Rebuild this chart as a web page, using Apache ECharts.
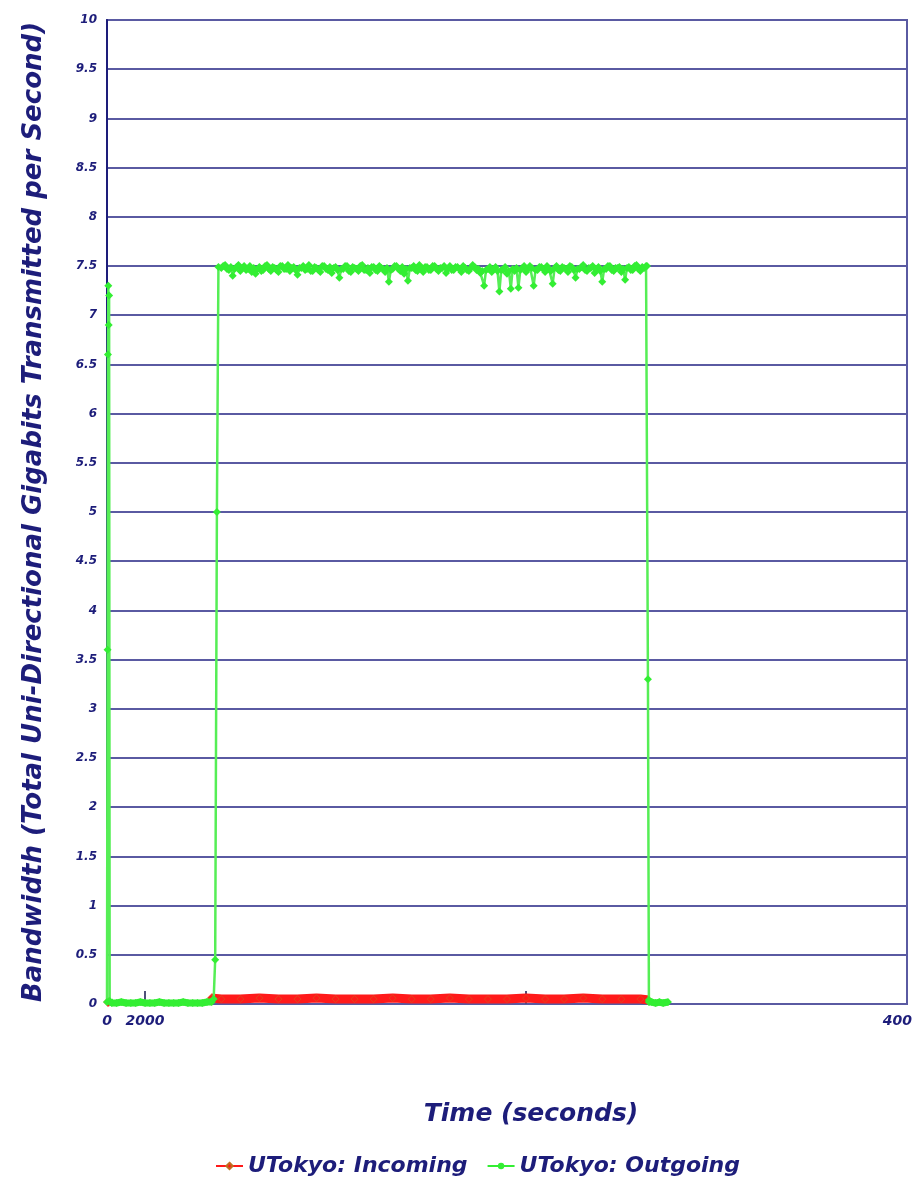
<!DOCTYPE html>
<html>
<head>
<meta charset="utf-8">
<title>UTokyo bandwidth</title>
<script src="https://cdn.jsdelivr.net/npm/echarts@6/dist/echarts.min.js"></script>
<style>
  html, body { margin: 0; padding: 0; background: #ffffff; overflow: hidden; }
  #chart { width: 912px; height: 1179px; }
</style>
</head>
<body>
<div id="chart"></div>
<script>
// ---- Data (time in seconds, bandwidth in Gbit/s) ----
const seriesNames = ['UTokyo: Incoming', 'UTokyo: Outgoing'];

// Outgoing: first short burst at start of the run
const outBurstTime = [0, 30, 50, 70, 90, 110, 140];
const outBurstGbps = [0.02, 3.6, 6.6, 7.3, 6.9, 7.2, 0.03];

// Outgoing: idle period before the main transfer
const outIdleTime = [250, 500, 750, 1000, 1250, 1500, 1750, 2000, 2250, 2500, 2750, 3000,
  3250, 3500, 3750, 4000, 4250, 4500, 4750, 5000, 5250, 5500];
const outIdleGbps = [0.01, 0.01, 0.02, 0.01, 0.01, 0.01, 0.02, 0.01, 0.01, 0.01, 0.02, 0.01,
  0.01, 0.01, 0.01, 0.02, 0.01, 0.01, 0.01, 0.01, 0.02, 0.02];

// Outgoing: ramp up
const outRampTime = [5600, 5680, 5770, 5850];
const outRampGbps = [0.05, 0.45, 5.0, 7.49];

// Outgoing: sustained transfer, one sample every 100 s from 6000 s
const plateauStart = 6000;
const plateauStep = 100;
const outPlateauGbps = [
  7.48, 7.50, 7.51, 7.47, 7.46, 7.49, 7.40, 7.47, 7.49, 7.51, 7.45, 7.48, 7.50, 7.46, 7.47, 7.50, 7.44, 7.48, 7.42, 7.47,
  7.49, 7.45, 7.46, 7.50, 7.51, 7.47, 7.45, 7.49, 7.48, 7.46, 7.44, 7.50, 7.50, 7.47, 7.47, 7.51, 7.45, 7.48, 7.49, 7.46,
  7.41, 7.48, 7.48, 7.50, 7.46, 7.47, 7.51, 7.45, 7.45, 7.49, 7.48, 7.46, 7.44, 7.50, 7.50, 7.47, 7.46, 7.49, 7.43, 7.48,
  7.49, 7.46, 7.38, 7.47, 7.47, 7.50, 7.50, 7.45, 7.44, 7.49, 7.48, 7.47, 7.45, 7.50, 7.51, 7.46, 7.46, 7.48, 7.43, 7.49,
  7.49, 7.46, 7.45, 7.50, 7.48, 7.47, 7.44, 7.48, 7.34, 7.46, 7.47, 7.50, 7.50, 7.47, 7.45, 7.49, 7.42, 7.47, 7.35, 7.48,
  7.48, 7.50, 7.46, 7.45, 7.51, 7.48, 7.44, 7.49, 7.49, 7.46, 7.46, 7.50, 7.50, 7.47, 7.45, 7.48, 7.48, 7.50, 7.43, 7.47,
  7.50, 7.46, 7.46, 7.49, 7.49, 7.47, 7.44, 7.50, 7.48, 7.46, 7.45, 7.48, 7.51, 7.49, 7.46, 7.47, 7.43, 7.45, 7.30, 7.46,
  7.47, 7.49, 7.44, 7.47, 7.49, 7.45, 7.24, 7.46, 7.46, 7.49, 7.42, 7.45, 7.27, 7.47, 7.45, 7.48, 7.28, 7.46, 7.48, 7.50,
  7.44, 7.47, 7.50, 7.48, 7.30, 7.46, 7.46, 7.49, 7.49, 7.47, 7.44, 7.50, 7.47, 7.45, 7.32, 7.48, 7.50, 7.46, 7.45, 7.49,
  7.48, 7.47, 7.44, 7.50, 7.49, 7.46, 7.38, 7.47, 7.47, 7.49, 7.51, 7.46, 7.45, 7.48, 7.48, 7.50, 7.43, 7.47, 7.49, 7.45,
  7.34, 7.47, 7.47, 7.50, 7.50, 7.46, 7.45, 7.48, 7.48, 7.49, 7.44, 7.47, 7.36, 7.48, 7.49, 7.46, 7.46, 7.50, 7.51, 7.47,
  7.45, 7.49, 7.48, 7.50
];

// Outgoing: ramp down
const outDropTime = [28350, 28400, 28450];
const outDropGbps = [7.50, 3.3, 0.04];

// Outgoing: idle tail after the transfer
const outTailTime = [28450, 28600, 28800, 29000, 29200, 29450];
const outTailGbps = [0.02, 0.02, 0.01, 0.02, 0.01, 0.02];

// Incoming: start marker, then the return traffic during the transfer
const inStartTime = [0, 120];
const inStartGbps = [0.02, 0.02];
const inTime = [5450, 6000, 7000, 8000, 9000, 10000, 11000, 12000, 13000, 14000, 15000,
  16000, 17000, 18000, 19000, 20000, 21000, 22000, 23000, 24000, 25000, 26000, 27000,
  28000, 28450];
const inGbps = [0.06, 0.05, 0.05, 0.06, 0.05, 0.05, 0.06, 0.05, 0.05, 0.05, 0.06,
  0.05, 0.05, 0.06, 0.05, 0.05, 0.05, 0.06, 0.05, 0.05, 0.06, 0.05, 0.05,
  0.05, 0.04];

// Axis ticks and labels
const xMax = 42000;
const xTickValues = [2000, 22000];
const xLabelValues = [0, 2000, 42000];
const xLabelTexts = ['0', '2000', '40000'];
const yMax = 10;
const yStep = 0.5;

// ---- Build series data ----
function pairs(times, values) {
  return times.map((t, i) => [t, values[i]]);
}
const plateauTime = outPlateauGbps.map((_, i) => plateauStart + i * plateauStep);

const outgoingTrace = [].concat(
  pairs(outBurstTime, outBurstGbps),
  pairs(outIdleTime, outIdleGbps),
  pairs(outRampTime, outRampGbps),
  pairs(plateauTime, outPlateauGbps),
  pairs(outDropTime, outDropGbps),
  pairs(outTailTime, outTailGbps)
);
// idle stretches of the outgoing link, drawn as a heavy band on the baseline
const outgoingIdle = [].concat(
  [[outBurstTime[outBurstTime.length - 1], outBurstGbps[outBurstGbps.length - 1]]],
  pairs(outIdleTime, outIdleGbps),
  [[null, null]],
  pairs(outTailTime, outTailGbps)
);
const incomingData = [].concat(
  pairs(inStartTime, inStartGbps),
  [[null, null]],
  pairs(inTime, inGbps)
);

// ---- Styling ----
const navy = '#1d1d7a';
const gridColor = '#5a5aa2';
const green = '#33ee33';
const red = '#ff1a1a';
const fontFamily = '"DejaVu Sans", Verdana, sans-serif';
const textBase = { color: navy, fontFamily, fontWeight: 'bold', fontStyle: 'italic' };

const chart = echarts.init(document.getElementById('chart'));
chart.setOption({
  animation: false,
  backgroundColor: '#ffffff',
  grid: {
    left: 107, right: 5, top: 20, bottom: 175,
    outerBoundsMode: 'none',
    containLabel: false,
    show: true, borderColor: gridColor, borderWidth: 2
  },
  legend: {
    data: seriesNames,
    left: 210, top: 1150,
    itemWidth: 27, itemHeight: 8, itemGap: 19,
    textStyle: Object.assign({}, textBase, { fontSize: 22 })
  },
  xAxis: {
    type: 'value',
    min: 0, max: xMax,
    name: 'Time (seconds)',
    nameLocation: 'middle',
    nameGap: 98,
    nameTextStyle: Object.assign({}, textBase, { fontSize: 25, padding: [0, 0, 0, 48] }),
    axisLine: { show: true, lineStyle: { color: gridColor, width: 2 } },
    axisTick: {
      show: true, inside: true, length: 13,
      customValues: xTickValues,
      lineStyle: { color: '#50507a', width: 2 }
    },
    axisLabel: Object.assign({}, textBase, {
      fontSize: 14, margin: 10,
      hideOverlap: false,
      customValues: xLabelValues,
      formatter: v => xLabelTexts[xLabelValues.indexOf(v)]
    }),
    splitLine: { show: false }
  },
  yAxis: {
    type: 'value',
    min: 0, max: yMax, interval: yStep,
    name: 'Bandwidth (Total Uni-Directional Gigabits Transmitted per Second)',
    nameLocation: 'middle',
    nameGap: 60,
    nameTextStyle: Object.assign({}, textBase, { fontSize: 26 }),
    axisLine: { show: true, lineStyle: { color: navy, width: 2 } },
    axisTick: { show: false },
    axisLabel: Object.assign({}, textBase, { fontSize: 12, margin: 10 }),
    splitLine: { show: true, lineStyle: { color: gridColor, width: 2 } }
  },
  series: [
    {
      name: seriesNames[0],
      type: 'line',
      data: incomingData,
      connectNulls: false,
      color: red,
      lineStyle: { color: red, width: 9 },
      symbol: 'diamond', symbolSize: 7, showAllSymbol: true,
      itemStyle: { color: red, borderColor: '#c07020', borderWidth: 0.5 },
      z: 2
    },
    {
      name: seriesNames[1],
      type: 'line',
      data: outgoingIdle,
      connectNulls: false,
      color: green,
      lineStyle: { color: green, width: 7 },
      symbol: 'none',
      z: 3
    },
    {
      name: seriesNames[1],
      type: 'line',
      data: outgoingTrace,
      color: green,
      lineStyle: { color: '#55ee55', width: 2.5 },
      symbol: 'diamond', symbolSize: 8, showAllSymbol: true,
      itemStyle: { color: green },
      z: 4
    }
  ]
});
</script>
</body>
</html>
